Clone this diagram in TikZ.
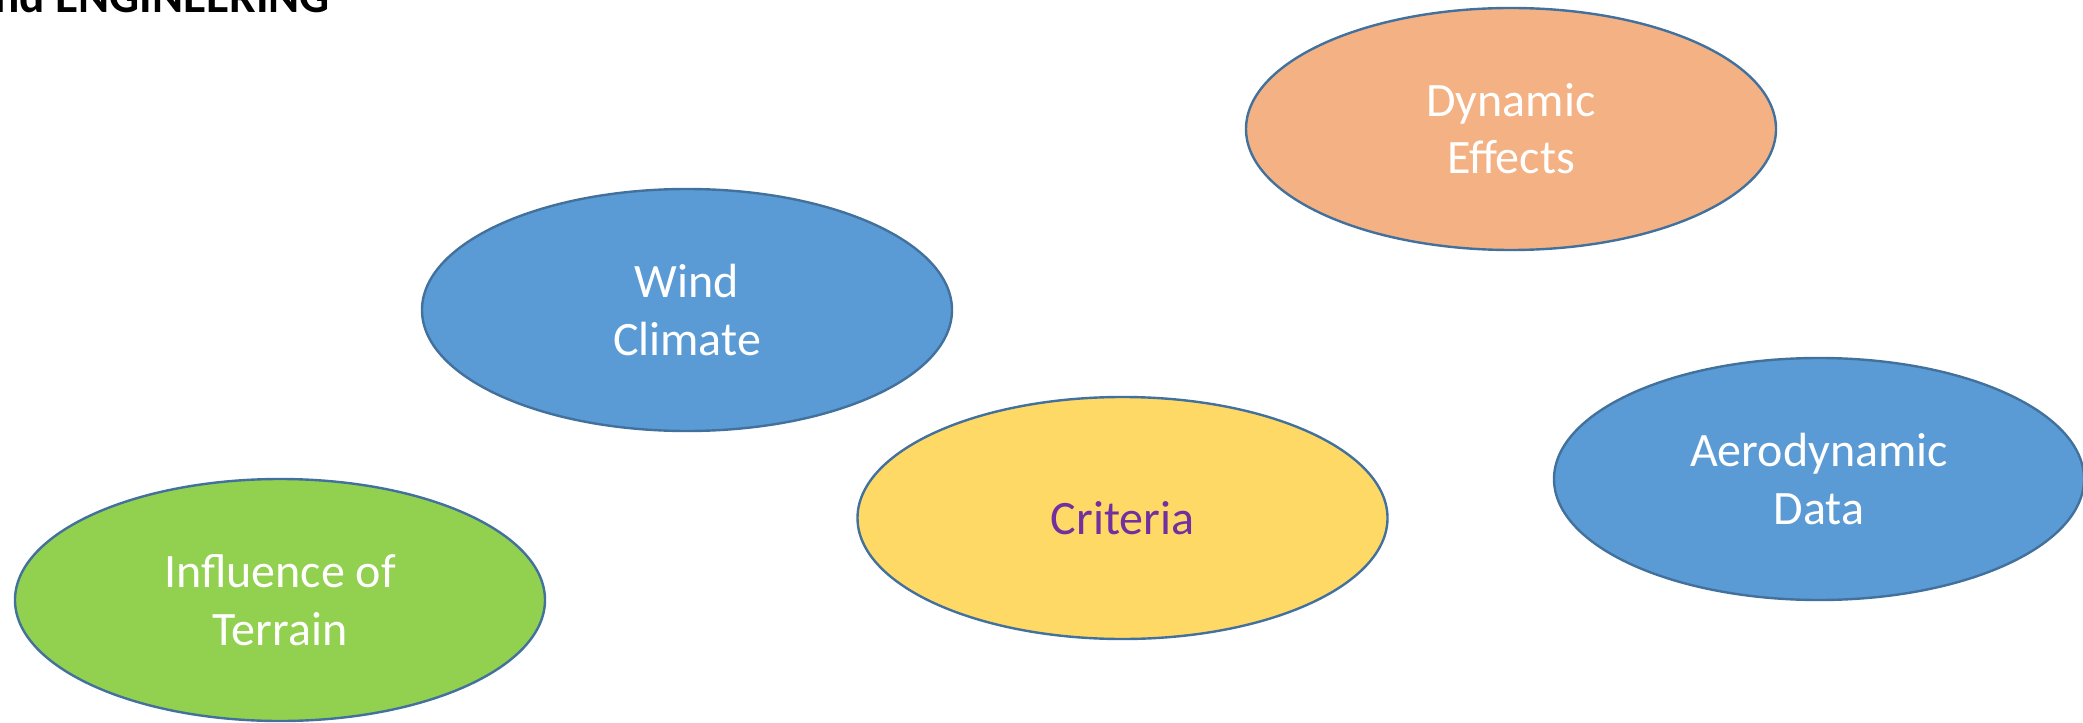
\documentclass[tikz,border=0pt]{standalone}
\usepackage{fontspec}
\setmainfont{Carlito}
\usetikzlibrary{shapes.geometric}
\definecolor{bluefill}{HTML}{5B9BD5}
\definecolor{edgeblue}{HTML}{41719C}
\definecolor{orangefill}{HTML}{F4B183}
\definecolor{greenfill}{HTML}{92D050}
\definecolor{yellowfill}{HTML}{FFD966}
\definecolor{purpletext}{HTML}{7030A0}
\tikzset{
  oval/.style={ellipse, draw=edgeblue, line width=1.8pt, minimum width=397.5pt,
    minimum height=181.5pt, inner sep=0pt, align=center, text=white,
    font=\fontsize{36}{43}\selectfont},
  titletext/.style={font=\fontsize{35.4}{42}\selectfont\bfseries, text=black, inner sep=0pt}
}
\begin{document}
\begin{tikzpicture}[x=0.75pt,y=-0.75pt]
\useasboundingbox (0,0) rectangle (2083,723);
\clip (0,0) rectangle (2083,723);
\fill[white] (0,0) rectangle (2083,723);
\node[titletext, anchor=base east] (title) at (330,12.7) {Wind ENGINEERING};
\node[oval, fill=orangefill] (dyn) at (1511,129) {Dynamic\\Effects};
\node[oval, fill=bluefill] (wind) at (687,310) {Wind\\Climate};
\node[oval, fill=yellowfill, text=purpletext] (crit) at (1122.5,518) {Criteria};
\node[oval, fill=bluefill] (aero) at (1819,479) {Aerodynamic\\Data};
\node[oval, fill=greenfill] (terr) at (280,600) {Influence of\\Terrain};
\end{tikzpicture}
\end{document}
